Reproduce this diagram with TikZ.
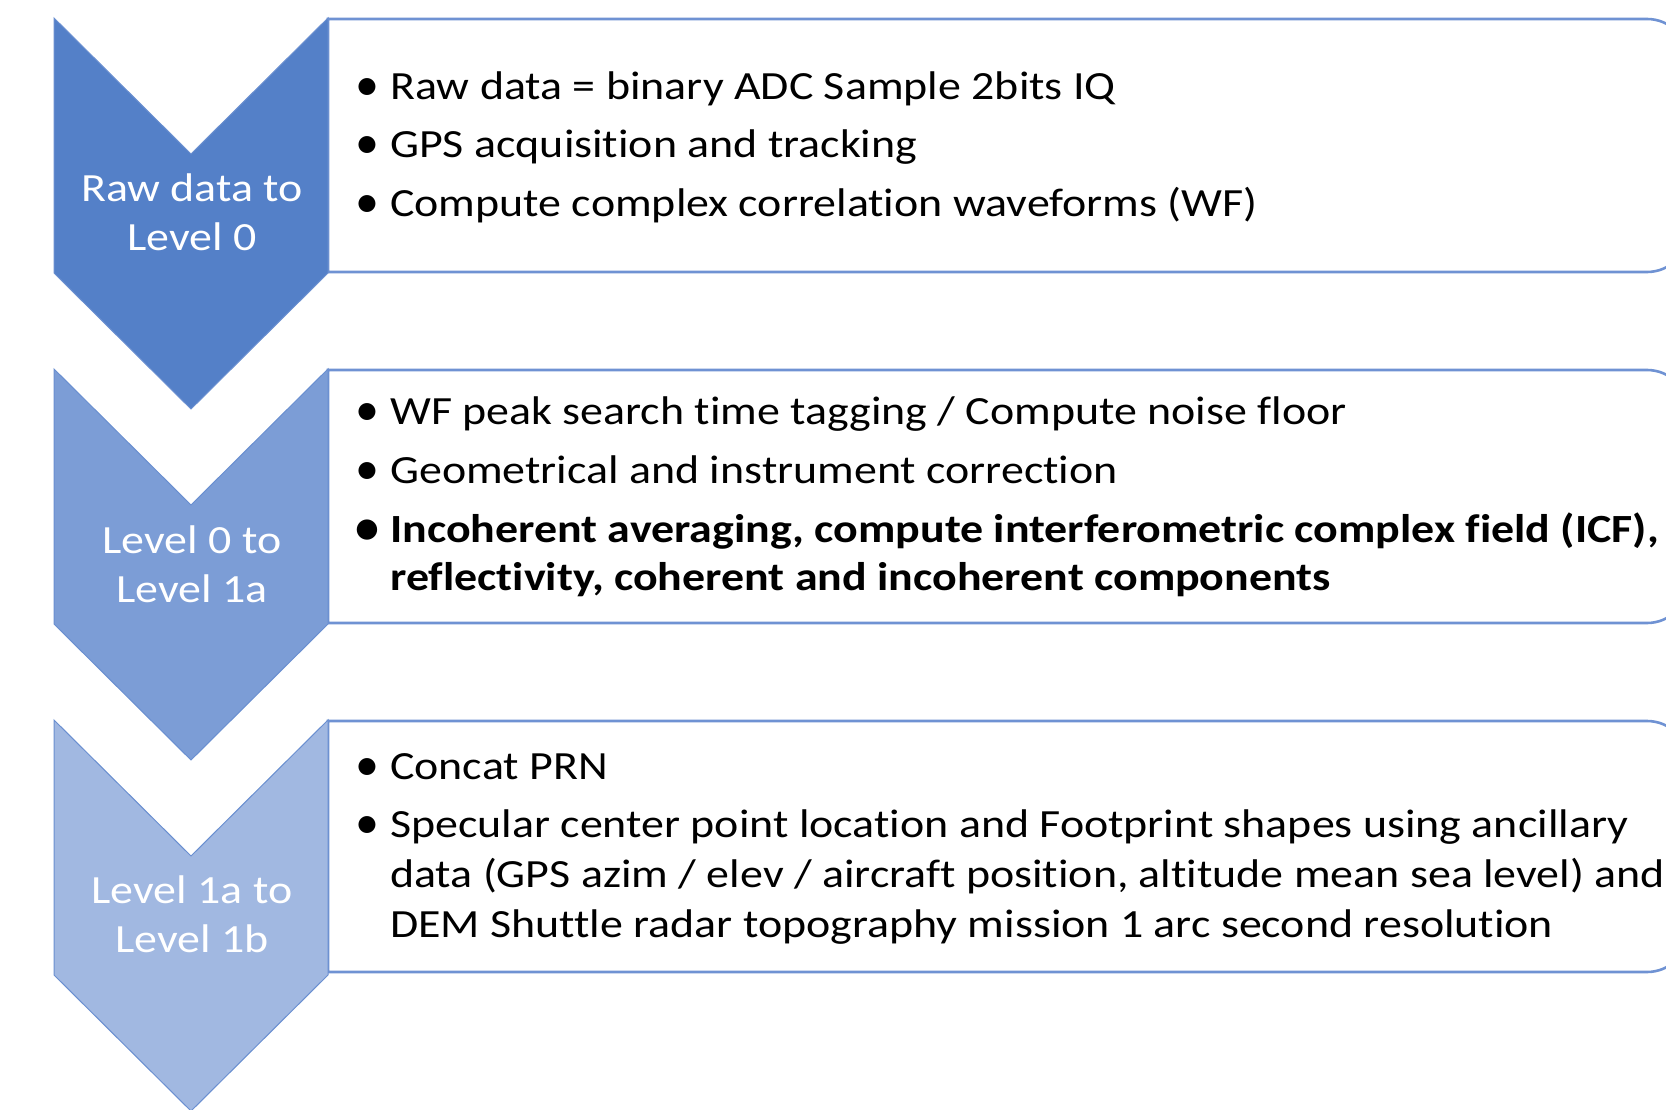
\documentclass[tikz,border=0pt]{standalone}
\usepackage{fontspec}
\setmainfont{Carlito}[Ligatures={NoCommon}, FakeStretch=1.148]
\newfontfamily\bulletfont{Carlito}
\definecolor{chevA}{HTML}{5480C8}
\definecolor{chevB}{HTML}{7C9DD6}
\definecolor{chevC}{HTML}{A1B8E1}
\definecolor{chevline}{HTML}{6A8FD0}
\definecolor{boxline}{HTML}{6F92D3}
\tikzset{
  chevshape/.style={draw=chevline, line width=1pt},
  boxshape/.style={draw=boxline, line width=2.6pt, fill=white},
  bultext/.style={anchor=base west, inner sep=0pt, font=\fontsize{40}{49}\selectfont, text=black},
  bulmark/.style={anchor=base, inner sep=0pt, font=\bulletfont\fontsize{48}{49}\selectfont, text=black},
  chevlabel/.style={anchor=base, inner sep=0pt, font=\fontsize{40}{49}\selectfont, text=white}
}
\newcommand{\chevron}[2]{%
  \fill[#2] (54,#1) -- (191,#1+136) -- (328,#1) -- (328,#1+255) -- (191,#1+391) -- (54,#1+255) -- cycle;
  \draw[chevshape] (54,#1) -- (191,#1+136) -- (328,#1) -- (328,#1+255) -- (191,#1+391) -- (54,#1+255) -- cycle;
}
\newcommand{\textbox}[2]{%
  \draw[boxshape] (328,#1) -- (1647,#1) .. controls (1670.2,#1) and (1689,#1+18.8) .. (1689,#1+42)
    -- (1689,#2-42) .. controls (1689,#2-18.8) and (1670.2,#2) .. (1647,#2) -- (328,#2) -- cycle;
}
\begin{document}
\begin{tikzpicture}[x=1pt,y=-1pt]
\useasboundingbox (0,0) rectangle (1666,1110);
\clip (0,0) rectangle (1666,1110);
\fill[white] (0,0) rectangle (1666,1110);
% text boxes
\textbox{19}{272}
\textbox{370}{623}
\textbox{721}{972}
% chevrons
\chevron{18}{chevA}
\chevron{369}{chevB}
\chevron{720}{chevC}
% chevron labels
\node[chevlabel] (c1a) at (192,202) {Raw data to};
\node[chevlabel] (c1b) at (192,251) {Level 0};
\node[chevlabel] (c2a) at (192,553) {Level 0 to};
\node[chevlabel] (c2b) at (192,602) {Level 1a};
\node[chevlabel] (c3a) at (192,903) {Level 1a to};
\node[chevlabel] (c3b) at (192,952) {Level 1b};
% box 1
\node[bulmark] (b1m1) at (367,101) {•};
\node[bultext] (b1t1) at (390,100) {Raw data = binary ADC Sample 2bits IQ};
\node[bulmark] (b1m2) at (367,159) {•};
\node[bultext] (b1t2) at (390,158) {GPS acquisition and tracking};
\node[bulmark] (b1m3) at (367,218) {•};
\node[bultext] (b1t3) at (390,217) {Compute complex correlation waveforms (WF)};
% box 2
\node[bulmark] (b2m1) at (367,425) {•};
\node[bultext] (b2t1) at (390,424) {WF peak search time tagging / Compute noise floor};
\node[bulmark] (b2m2) at (367,484) {•};
\node[bultext] (b2t2) at (390,483) {Geometrical and instrument correction};
\node[bulmark] (b2m3) at (367,543) {\bfseries •};
\node[bultext] (b2t3) at (390,542) {\bfseries Incoherent averaging, compute interferometric complex field (ICF),};
\node[bultext] (b2t4) at (390,590) {\bfseries reflectivity, coherent and incoherent components};
% box 3
\node[bulmark] (b3m1) at (367,780) {•};
\node[bultext] (b3t1) at (390,779) {Concat PRN};
\node[bulmark] (b3m2) at (367,838) {•};
\node[bultext] (b3t2) at (390,837) {Specular center point location and Footprint shapes using ancillary};
\node[bultext] (b3t3) at (390,887) {data (GPS azim / elev / aircraft position, altitude mean sea level) and};
\node[bultext] (b3t4) at (390,937) {DEM Shuttle radar topography mission 1 arc second resolution};
\end{tikzpicture}
\end{document}
